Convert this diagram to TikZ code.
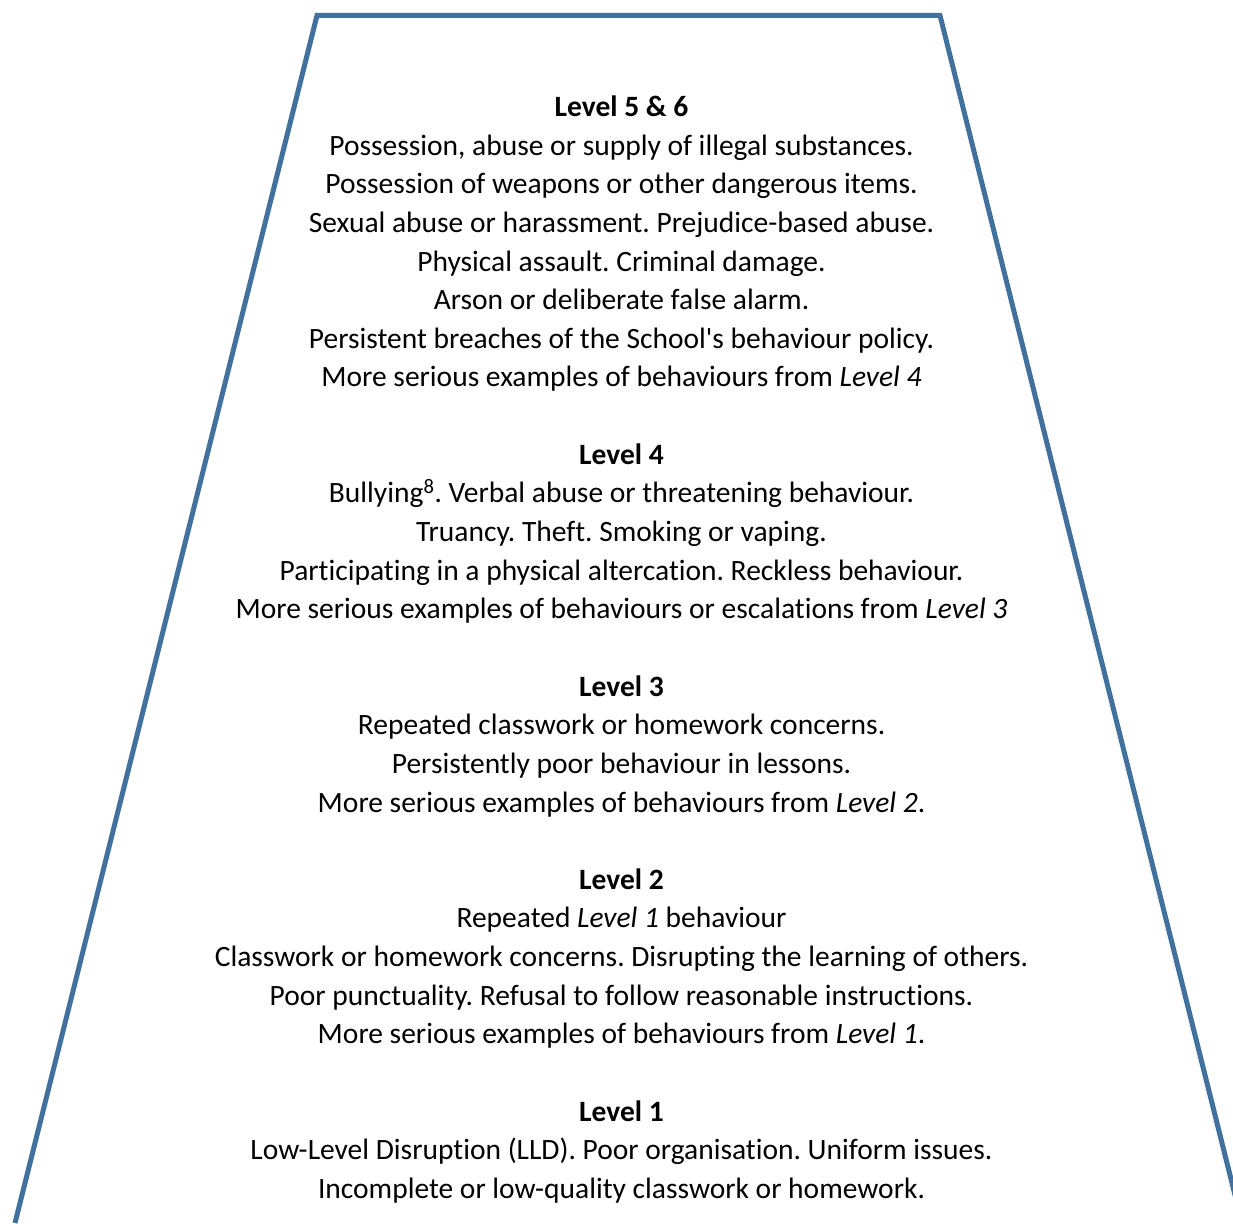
\documentclass[tikz,border=0pt]{standalone}
\usepackage{fontspec}
\setmainfont[Ligatures={TeXOff,NoCommon}]{Carlito}
\definecolor{edgeblue}{RGB}{65,113,156}
\tikzset{
  outline/.style={draw=edgeblue, line width=5pt, line join=miter},
  txt/.style={anchor=base, inner sep=0pt, font=\fontsize{29.5}{35}\selectfont},
  hd/.style={txt, font=\fontsize{29.5}{35}\selectfont\bfseries}
}
\newcommand{\ly}[1]{116.5+38.64*#1}
\frenchspacing
\begin{document}
\begin{tikzpicture}[x=1pt,y=-1pt]
\useasboundingbox (0,0) rectangle (1233,1223);
\coordinate (bl) at (15,1223);
\coordinate (tl) at (317,15.5);
\coordinate (tr) at (940,15.5);
\coordinate (br) at (1242,1223);
\draw[outline] (bl) -- (tl) -- (tr) -- (br);
\def\cx{621.5}
\node[hd] (h56) at (\cx,{\ly{0}}) {Level 5 \& 6};
\node[txt] (a1) at (\cx,{\ly{1}}) {Possession, abuse or supply of illegal substances.};
\node[txt] (a2) at (\cx,{\ly{2}}) {Possession of weapons or other dangerous items.};
\node[txt] (a3) at (\cx,{\ly{3}}) {Sexual abuse or harassment. Prejudice-based abuse.};
\node[txt] (a4) at (\cx,{\ly{4}}) {Physical assault. Criminal damage.};
\node[txt] (a5) at (\cx,{\ly{5}}) {Arson or deliberate false alarm.};
\node[txt] (a6) at (\cx,{\ly{6}}) {Persistent breaches of the School's behaviour policy.};
\node[txt] (a7) at (\cx,{\ly{7}}) {More serious examples of behaviours from \textit{Level 4}};
\node[hd] (h4) at (\cx,{\ly{9}}) {Level 4};
\node[txt] (b1) at (\cx,{\ly{10}}) {Bullying\textsuperscript{8}. Verbal abuse or threatening behaviour.};
\node[txt] (b2) at (\cx,{\ly{11}}) {Truancy. Theft. Smoking or vaping.};
\node[txt] (b3) at (\cx,{\ly{12}}) {Participating in a physical altercation. Reckless behaviour.};
\node[txt] (b4) at (\cx,{\ly{13}}) {More serious examples of behaviours or escalations from \textit{Level 3}};
\node[hd] (h3) at (\cx,{\ly{15}}) {Level 3};
\node[txt] (c1) at (\cx,{\ly{16}}) {Repeated classwork or homework concerns.};
\node[txt] (c2) at (\cx,{\ly{17}}) {Persistently poor behaviour in lessons.};
\node[txt] (c3) at (\cx,{\ly{18}}) {More serious examples of behaviours from \textit{Level 2}.};
\node[hd] (h2) at (\cx,{\ly{20}}) {Level 2};
\node[txt] (d1) at (\cx,{\ly{21}}) {Repeated \textit{Level 1} behaviour};
\node[txt] (d2) at (\cx,{\ly{22}}) {Classwork or homework concerns. Disrupting the learning of others.};
\node[txt] (d3) at (\cx,{\ly{23}}) {Poor punctuality. Refusal to follow reasonable instructions.};
\node[txt] (d4) at (\cx,{\ly{24}}) {More serious examples of behaviours from \textit{Level 1}.};
\node[hd] (h1) at (\cx,{\ly{26}}) {Level 1};
\node[txt] (e1) at (\cx,{\ly{27}}) {Low-Level Disruption (LLD). Poor organisation. Uniform issues.};
\node[txt] (e2) at (\cx,{\ly{28}}) {Incomplete or low-quality classwork or homework.};
\end{tikzpicture}
\end{document}
